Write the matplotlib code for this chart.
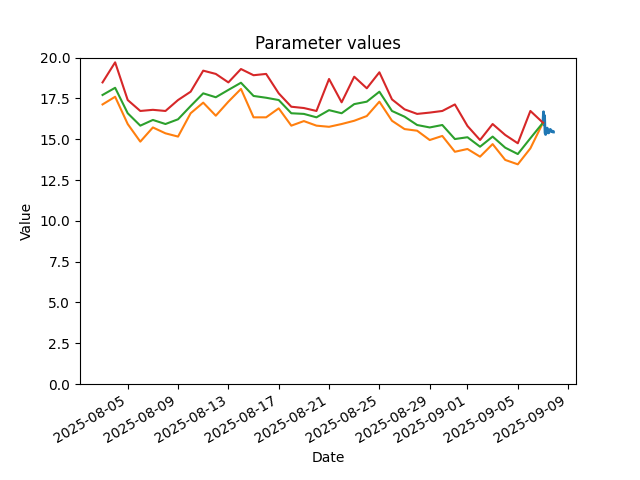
import pandas as pd
import matplotlib
matplotlib.use('Agg')
import matplotlib.pyplot as plt

# daily values, 2025-08-03 .. 2025-09-07
days = pd.date_range('2025-08-03', '2025-09-07', freq='D')

low_vals = [17.13, 17.60, 15.93, 14.85, 15.72, 15.36, 15.16, 16.59, 17.24, 16.44,
            17.30, 18.08, 16.34, 16.34, 16.89, 15.83, 16.11, 15.83, 15.76, 15.93,
            16.13, 16.42, 17.30, 16.13, 15.62, 15.52, 14.95, 15.20, 14.23, 14.40,
            13.93, 14.70, 13.73, 13.46, 14.44, 16.01]
mid_vals = [17.71, 18.15, 16.59, 15.83, 16.18, 15.93, 16.22, 17.03, 17.81, 17.57,
            18.02, 18.46, 17.65, 17.54, 17.40, 16.59, 16.55, 16.34, 16.78, 16.59,
            17.15, 17.30, 17.91, 16.73, 16.38, 15.87, 15.72, 15.87, 15.01, 15.12,
            14.54, 15.16, 14.48, 14.09, 15.06, 16.01]
high_vals = [18.48, 19.71, 17.40, 16.73, 16.80, 16.73, 17.40, 17.91, 19.20, 19.00,
             18.48, 19.30, 18.92, 19.00, 17.81, 16.99, 16.91, 16.73, 18.69, 17.26,
             18.83, 18.12, 19.10, 17.44, 16.83, 16.55, 16.63, 16.73, 17.13, 15.81,
             14.95, 15.93, 15.26, 14.75, 16.73, 16.01]

# hourly values on the last day
hours = pd.date_range('2025-09-07 00:00', periods=21, freq='h')
hourly_vals = [16.01, 16.68, 15.88, 16.45, 15.39, 15.29, 15.39, 15.58, 15.68, 15.48,
               15.39, 15.39, 15.48, 15.58, 15.60, 15.53, 15.48, 15.48, 15.50, 15.44,
               15.44]

fig, ax = plt.subplots(figsize=(6.4, 4.8), dpi=100)
ax.plot(hours, hourly_vals, color='C0', linewidth=2)
ax.plot(days, low_vals, color='C1')
ax.plot(days, mid_vals, color='C2')
ax.plot(days, high_vals, color='C3')
ax.set_ylim(0, 20)
ax.set_title('Parameter values')
ax.set_xlabel('Date')
ax.set_ylabel('Value')
fig.autofmt_xdate()
fig.savefig('out.png')
